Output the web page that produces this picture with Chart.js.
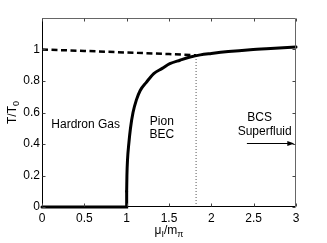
<!DOCTYPE html>
<html>
<head>
<meta charset="utf-8">
<script src="https://cdn.jsdelivr.net/npm/chart.js@4.4.0/dist/chart.umd.min.js"></script>
<style>
  html, body { margin: 0; padding: 0; background: #fff; }
  canvas { display: block; }
</style>
</head>
<body>
<canvas id="phaseChart" width="327" height="243"></canvas>
<script>
// Phase boundary, straight part: T = 0 up to mu_I = m_pi, then vertical
const edgeX = [0, 1.0, 1.0];
const edgeT = [0, 0, 0.1];

// Phase boundary, curved part (pion BEC -> BCS)
const curveX = [1.0, 1.003, 1.01, 1.025, 1.045, 1.075, 1.115, 1.16, 1.23, 1.32, 1.42, 1.51, 1.63, 1.75, 1.87, 2.0, 2.2, 2.46, 2.7, 3.0];
const curveT = [0.1, 0.2, 0.3, 0.4, 0.5, 0.6, 0.68, 0.74, 0.79, 0.847, 0.88, 0.91, 0.932, 0.952, 0.966, 0.975, 0.987, 0.999, 1.007, 1.016];

// Dashed crossover line
const dashX = [0, 0.5, 1.0, 1.5, 1.82];
const dashT = [1.0, 0.991, 0.981, 0.971, 0.963];

// Dotted vertical line (BEC-BCS crossover)
const dotX = [1.82, 1.82];
const dotT = [0, 0.963];

// Arrow under "BCS Superfluid"
const arrowX = [2.42, 2.98];
const arrowT = [0.404, 0.404];

const xTicks = [0, 0.5, 1, 1.5, 2, 2.5, 3];
const yTicks = [0, 0.2, 0.4, 0.6, 0.8, 1];

// Region labels: [text, x, T, align]
const regionLabels = [
    ['Hardron Gas', 0.11, 0.52, 'left'],
    ['Pion', 1.415, 0.54, 'center'],
    ['BEC', 1.415, 0.46, 'center'],
    ['BCS', 2.57, 0.57, 'center'],
    ['Superfluid', 2.63, 0.48, 'center']
];

const toPoints = (xs, ys) => xs.map((x, i) => ({ x: x, y: ys[i] }));
const FAMILY = '"Liberation Sans", Arial, sans-serif';
const FONT = '12px ' + FAMILY;
const SMALL = '9px ' + FAMILY;

// MATLAB style box with inward ticks, labels, axis titles
const matlabAxes = {
    id: 'matlabAxes',
    afterDatasetsDraw(chart) {
        const ctx = chart.ctx;
        const a = chart.chartArea;
        const xs = chart.scales.x;
        const ys = chart.scales.y;
        ctx.save();

        // arrow
        const ax0 = xs.getPixelForValue(arrowX[0]);
        const ax1 = xs.getPixelForValue(arrowX[1]);
        const ay = Math.round(ys.getPixelForValue(arrowT[0])) + 0.5;
        ctx.strokeStyle = '#000';
        ctx.lineWidth = 1;
        ctx.beginPath();
        ctx.moveTo(ax0, ay);
        ctx.lineTo(ax1 - 4, ay);
        ctx.stroke();
        ctx.fillStyle = '#000';
        ctx.beginPath();
        ctx.moveTo(ax1, ay);
        ctx.lineTo(ax1 - 7, ay - 2.5);
        ctx.lineTo(ax1 - 7, ay + 2.5);
        ctx.closePath();
        ctx.fill();

        // region labels
        ctx.font = FONT;
        ctx.fillStyle = '#000';
        ctx.textBaseline = 'middle';
        regionLabels.forEach(l => {
            ctx.textAlign = l[3];
            ctx.fillText(l[0], xs.getPixelForValue(l[1]), ys.getPixelForValue(l[2]));
        });

        // box
        const L = a.left + 0.5, R = a.right - 0.5, T = a.top + 0.5, B = a.bottom - 0.5;
        ctx.lineWidth = 1;
        ctx.strokeStyle = '#000';
        ctx.beginPath();
        ctx.moveTo(R, B); ctx.lineTo(L, B); ctx.lineTo(L, T);
        ctx.stroke();
        ctx.strokeStyle = '#666';
        ctx.beginPath();
        ctx.moveTo(L, T); ctx.lineTo(R, T); ctx.lineTo(R, B);
        ctx.stroke();

        // inward ticks
        const len = 3;
        ctx.strokeStyle = '#444';
        ctx.beginPath();
        xTicks.forEach(v => {
            const px = Math.round(xs.getPixelForValue(v)) + 0.5;
            ctx.moveTo(px, B); ctx.lineTo(px, B - len);
            ctx.moveTo(px, T); ctx.lineTo(px, T + len);
        });
        yTicks.forEach(v => {
            const py = Math.round(ys.getPixelForValue(v)) + 0.5;
            ctx.moveTo(L, py); ctx.lineTo(L + len, py);
            ctx.moveTo(R, py); ctx.lineTo(R - len, py);
        });
        ctx.stroke();

        // y title T/T0 (rotated)
        ctx.fillStyle = '#000';
        ctx.save();
        ctx.translate(13, (a.top + a.bottom) / 2);
        ctx.rotate(-Math.PI / 2);
        ctx.font = FONT;
        const w1 = ctx.measureText('T/T').width;
        ctx.font = SMALL;
        const w2 = ctx.measureText('0').width;
        const start = -(w1 + w2) / 2;
        ctx.textAlign = 'left';
        ctx.textBaseline = 'middle';
        ctx.font = FONT;
        ctx.fillText('T/T', start, 0);
        ctx.font = SMALL;
        ctx.fillText('0', start + w1, 4);
        ctx.restore();

        // x title mu_I / m_pi
        const cx = (a.left + a.right) / 2;
        const ty = 231;
        const parts = [['\u03bc', FONT, 0], ['I', SMALL, 4], ['/m', FONT, 0], ['\u03c0', SMALL, 4]];
        let total = 0;
        parts.forEach(p => { ctx.font = p[1]; total += ctx.measureText(p[0]).width; });
        let px = cx - total / 2;
        ctx.textAlign = 'left';
        ctx.textBaseline = 'middle';
        parts.forEach(p => {
            ctx.font = p[1];
            ctx.fillText(p[0], px, ty + p[2]);
            px += ctx.measureText(p[0]).width;
        });

        ctx.restore();
    }
};

const ctx = document.getElementById('phaseChart').getContext('2d');

new Chart(ctx, {
    type: 'scatter',
    data: {
        datasets: [
            {
                data: toPoints(edgeX, edgeT),
                showLine: true,
                borderColor: '#000',
                borderWidth: 3,
                borderCapStyle: 'round',
                pointRadius: 0,
                tension: 0,
                clip: 4
            },
            {
                data: toPoints(curveX, curveT),
                showLine: true,
                borderColor: '#000',
                borderWidth: 3,
                borderCapStyle: 'round',
                pointRadius: 0,
                cubicInterpolationMode: 'monotone',
                clip: 4
            },
            {
                data: toPoints(dashX, dashT),
                showLine: true,
                borderColor: '#000',
                borderWidth: 2.5,
                borderDash: [6, 3.5],
                pointRadius: 0,
                tension: 0
            },
            {
                data: toPoints(dotX, dotT),
                showLine: true,
                borderColor: '#555',
                borderWidth: 1,
                borderDash: [1, 2],
                pointRadius: 0
            }
        ]
    },
    options: {
        responsive: false,
        animation: false,
        events: [],
        layout: { padding: { top: 18, right: 31, left: 0, bottom: 0 } },
        plugins: {
            legend: { display: false },
            tooltip: { enabled: false }
        },
        scales: {
            x: {
                type: 'linear',
                min: 0,
                max: 3,
                afterBuildTicks: s => { s.ticks = xTicks.map(v => ({ value: v })); },
                afterFit: s => { s.height = 36; },
                grid: { display: false, drawTicks: false },
                border: { display: false },
                ticks: {
                    color: '#000',
                    font: { family: FAMILY, size: 12 },
                    padding: 4,
                    maxRotation: 0,
                    callback: v => String(v)
                }
            },
            y: {
                type: 'linear',
                min: 0,
                max: 1.2,
                afterBuildTicks: s => { s.ticks = yTicks.map(v => ({ value: v })); },
                afterFit: s => { s.width = 42; },
                grid: { display: false, drawTicks: false },
                border: { display: false },
                ticks: {
                    color: '#000',
                    font: { family: FAMILY, size: 12 },
                    padding: 2,
                    callback: v => String(v)
                }
            }
        }
    },
    plugins: [matlabAxes]
});
</script>
</body>
</html>
